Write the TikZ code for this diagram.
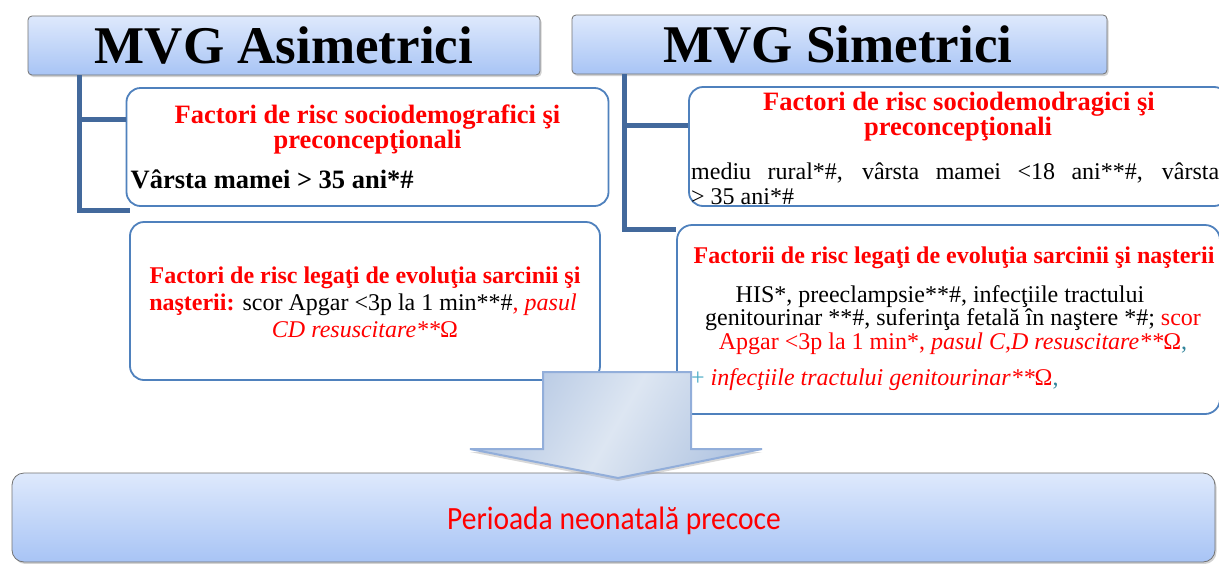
\documentclass[tikz,border=0pt]{standalone}
\usepackage{fontspec}
\setmainfont{Liberation Serif}
\newfontfamily\calfont{Carlito}
\usetikzlibrary{shadows}
\definecolor{rd}{HTML}{FF0000}
\definecolor{tealA}{HTML}{31849B}
\definecolor{tealB}{HTML}{4BACC6}
\definecolor{treec}{HTML}{43699C}
\definecolor{boxc}{HTML}{4F81BD}
\definecolor{hTop}{HTML}{DEE9FC}
\definecolor{hBot}{HTML}{A8C4F5}
\definecolor{arrE}{HTML}{B3C6E2}
\definecolor{arrM}{HTML}{DDE6F2}
\definecolor{arrB}{HTML}{92AEDA}
\newcommand\fsz[1]{\fontsize{#1}{#1}\selectfont}
\begin{document}
\begin{tikzpicture}[x=1pt,y=-1pt,
  hdr/.style={draw=black!55, line width=0.8pt, rounded corners=4pt, top color=hTop, bottom color=hBot,
    drop shadow={shadow xshift=1.5pt,shadow yshift=-2pt,opacity=0.35}, inner sep=0pt},
  rbox/.style={draw=boxc, line width=1.8pt, fill=white, rounded corners=14pt, inner sep=0pt},
  tree/.style={draw=treec, line width=5pt, line join=miter},
  txt/.style={anchor=base, inner sep=0pt},
  txl/.style={anchor=base west, inner sep=0pt},
]
\useasboundingbox (0,0) rectangle (1219,563);
\fill[white] (0,0) rectangle (1219,563);

% headers
\node[hdr, minimum width=512pt, minimum height=59pt] (hA) at (284,45.5) {};
\node[txt, font=\bfseries\fsz{53}] (tA) at (284,63) {MVG Asimetrici};
\node[hdr, minimum width=535pt, minimum height=59pt] (hB) at (839.5,44.5) {};
\node[txt, font=\bfseries\fsz{53}] (tB) at (838,62) {MVG Simetrici};

% boxes
\node[rbox, minimum width=482pt, minimum height=118pt] (bL1) at (367.5,147) {};
\node[rbox, minimum width=470pt, minimum height=158pt] (bL2) at (365,301) {};
\node[rbox, minimum width=539pt, minimum height=119pt] (bR1) at (958.5,146.5) {};
\node[rbox, minimum width=543pt, minimum height=189pt, rounded corners=15pt] (bR2) at (948.5,319.5) {};

% tree connectors
\coordinate (jA1) at (79.5,119.5);
\coordinate (jA2) at (79.5,210);
\coordinate (eA2) at (130,210);
\draw[tree] (hA.south -| jA1) -- (jA2) -- (eA2);
\draw[tree] (jA1) -- (jA1 -| bL1.west);
\coordinate (jB1) at (624,125);
\coordinate (jB2) at (624,229.5);
\draw[tree] (hB.south -| jB1) -- (jB2) -- (jB2 -| bR2.west);
\draw[tree] (jB1) -- (jB1 -| bR1.west);

% left box texts
\node[txt, text=rd, font=\bfseries\fsz{26.5}] (tL1a) at (367.5,123) {Factori de risc sociodemografici şi};
\node[txt, text=rd, font=\bfseries\fsz{26.5}] (tL1b) at (367.5,148) {preconcepţionali};
\node[txl, font=\bfseries\fsz{26.5}] (tL1c) at (130.5,188) {Vârsta mamei > 35 ani*\#};

\node[txt, text=rd, font=\bfseries\fsz{24}] (tL2a) at (365,283) {Factori de risc legaţi de evoluţia sarcinii şi};
\node[txt, font=\fsz{24}] (tL2b) at (363,310) {{\color{rd}\bfseries naşterii:} scor Apgar <3p la 1 min**\#{\color{rd}\itshape , pasul}};
\node[txt, text=rd, font=\fsz{24}] (tL2c) at (365,337) {\textit{CD resuscitare**}Ω};

% right box texts
\node[txt, text=rd, font=\bfseries\fsz{26.5}] (tR1a) at (959,110) {Factori de risc sociodemodragici şi};
\node[txt, text=rd, font=\bfseries\fsz{26.5}] (tR1b) at (958,135) {preconcepţionali};
\node[txl, font=\fsz{24}] (tR1c) at (691,179) {\makebox[528pt][s]{mediu rural*\#, vârsta mamei <18 ani**\#, vârsta}};
\node[txl, font=\fsz{24}] (tR1d) at (691,204) {> 35 ani*\#};

\node[txt, text=rd, font=\bfseries\fsz{24}] (tR2a) at (954,263) {Factorii de risc legaţi de evoluţia sarcinii şi naşterii};
\node[txt, font=\fsz{24}] (tR2b) at (940,302) {HIS*, preeclampsie**\#, infecţiile tractului};
\node[txt, font=\fsz{24}] (tR2c) at (953,325.5) {genitourinar **\#, suferinţa fetală în naştere *\#; {\color{rd}scor}};
\node[txt, font=\fsz{24}] (tR2d) at (953,349) {{\color{rd}Apgar <3p la 1 min*, \textit{pasul C,D resuscitare**}Ω}{\color{tealA},}};

% bottom box
\node[hdr, minimum width=1203pt, minimum height=89pt, rounded corners=12pt] (bot) at (613.5,517.5) {};
\node[txt, text=rd, font=\calfont\fsz{29.5}] (tBot) at (614,529) {\scalebox{1}[1.1]{Perioada neonatală precoce}};

% big arrow
\draw[draw=arrB, line width=2pt, line join=miter, shading=axis, left color=arrE, right color=arrE, middle color=arrM, shading angle=60,
  drop shadow={shadow xshift=0pt,shadow yshift=-3pt,opacity=0.3}]
  (543,372) -- (691,372) -- (691,449) -- (762,449) -- (618,478) -- (470,449) -- (543,449) -- cycle;

\node[txl, font=\fsz{24}] (tR2e) at (691,385) {{\color{tealB}+} {\color{rd}\textit{infecţiile tractului genitourinar**}Ω}{\color{tealA},}};
\end{tikzpicture}
\end{document}
